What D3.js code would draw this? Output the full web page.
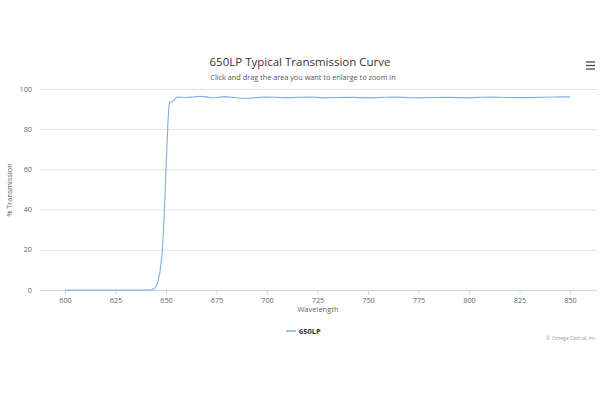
<!DOCTYPE html>
<html>
<head>
<meta charset="utf-8">
<script src="https://cdn.jsdelivr.net/npm/d3@7"></script>
<style>
  body { margin: 0; background: #fff; }
  svg { font-family: "Open Sans", "DejaVu Sans", sans-serif; }
  .grid line { stroke: #e2e2e2; }
</style>
</head>
<body>
<svg id="chart" width="600" height="400"></svg>
<script>
const wavelength = [600, 620, 640, 642, 643, 644, 645, 646, 647, 648, 648.5, 649, 649.5, 650,
  650.5, 651, 651.4, 651.8, 653, 654, 655, 656, 660, 664, 667, 670, 673, 676, 679, 684, 689,
  694, 699, 704, 710, 716, 722, 728, 734, 740, 746, 752, 758, 764, 770, 776, 782, 788, 794,
  800, 806, 812, 818, 824, 830, 836, 842, 846, 850];
const transmission = [0, 0, 0, 0.05, 0.2, 0.6, 1.5, 4, 9, 17, 25, 35, 47, 60,
  72, 84, 91, 93.6, 93.8, 94.5, 95.7, 96, 95.8, 96.1, 96.4, 96.1, 95.5, 95.9, 96.2, 95.8, 95.3,
  95.6, 96, 95.9, 95.6, 95.9, 96, 95.6, 95.8, 95.9, 95.7, 95.6, 95.9, 96, 95.7, 95.6, 95.8, 95.9, 95.7,
  95.6, 95.9, 96, 95.8, 95.7, 95.7, 95.9, 96, 96.1, 96.1];
const xTicks = [600, 625, 650, 675, 700, 725, 750, 775, 800, 825, 850];
const yTicks = [0, 20, 40, 60, 80, 100];
const seriesName = "650LP";

const svg = d3.select("#chart");
const plotLeft = 40, plotRight = 597;

const x = d3.scaleLinear().domain([600, 850]).range([65, 570]);
const y = d3.scaleLinear().domain([0, 100]).range([290, 89]);

// Titles
svg.append("text").attr("x", 300).attr("y", 66).attr("text-anchor", "middle")
  .attr("font-size", 11.5).attr("fill", "#333").text("650LP Typical Transmission Curve");
svg.append("text").attr("x", 303).attr("y", 80).attr("text-anchor", "middle")
  .attr("font-size", 7.3).attr("fill", "#555").text("Click and drag the area you want to enlarge to zoom in");

// Menu icon
[62, 65.5, 69].forEach(yy => {
  svg.append("line").attr("x1", 586).attr("x2", 595).attr("y1", yy).attr("y2", yy)
    .attr("stroke", "#444").attr("stroke-width", 1.3);
});

// Y gridlines + labels
const grid = svg.append("g").attr("class", "grid");
grid.selectAll("line").data(yTicks).join("line")
  .attr("x1", plotLeft).attr("x2", plotRight)
  .attr("y1", d => y(d) + 0.5).attr("y2", d => y(d) + 0.5);
svg.append("g").selectAll("text").data(yTicks).join("text")
  .attr("x", 32).attr("y", d => y(d) + 2.5).attr("text-anchor", "end")
  .attr("font-size", 7.3).attr("fill", "#666").text(d => d);

svg.append("text")
  .attr("transform", "translate(12,190) rotate(-90)")
  .attr("text-anchor", "middle").attr("font-size", 7.3).attr("fill", "#666")
  .text("% Transmission");

// X axis
const xAxis = svg.append("g").attr("transform", "translate(0,290.5)")
  .call(d3.axisBottom(x).tickValues(xTicks).tickSize(4).tickSizeOuter(0).tickPadding(3));
xAxis.select(".domain").attr("d", `M${plotLeft},0H${plotRight}`).attr("stroke", "#ccd6eb");
xAxis.selectAll(".tick line").attr("stroke", "#ccd6eb");
xAxis.selectAll(".tick text").attr("font-size", 7.3).attr("fill", "#666")
  .attr("font-family", "\"Open Sans\", \"DejaVu Sans\", sans-serif");

svg.append("text").attr("x", 318).attr("y", 312).attr("text-anchor", "middle")
  .attr("font-size", 7.5).attr("fill", "#666").text("Wavelength");

// Curve
const line = d3.line().x((d, i) => x(wavelength[i])).y(d => y(d));
svg.append("path").datum(transmission).attr("d", line)
  .attr("fill", "none").attr("stroke", "#80acdf").attr("stroke-width", 1.1);

// Legend
svg.append("line").attr("x1", 286).attr("x2", 296).attr("y1", 331).attr("y2", 331)
  .attr("stroke", "#80acdf").attr("stroke-width", 1.5);
svg.append("text").attr("x", 299).attr("y", 334).attr("font-size", 7.5)
  .attr("font-weight", "bold").attr("fill", "#333").text(seriesName);

// Credits
svg.append("text").attr("x", 597).attr("y", 340).attr("text-anchor", "end")
  .attr("font-size", 5).attr("fill", "#999").text("© Omega Optical, Inc.");
</script>
</body>
</html>
